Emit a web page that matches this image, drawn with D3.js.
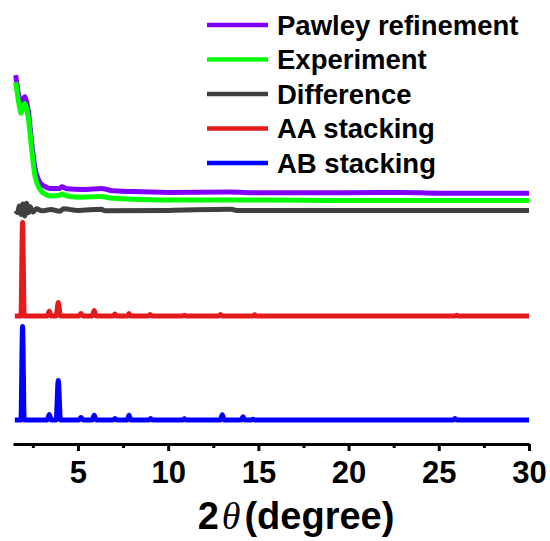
<!DOCTYPE html>
<html>
<head>
<meta charset="utf-8">
<script src="https://cdn.jsdelivr.net/npm/d3@7"></script>
<style>
  body { margin: 0; background: #fff; }
  svg { display: block; font-family: "Liberation Sans", Arial, sans-serif; }
</style>
</head>
<body>
<div id="chart"></div>
<script>
// 2theta (degree) vs intensity (a.u., series already offset for stacking)
const pawley = [
  [1.55, 92.2], [1.79, 85.5], [1.84, 84.8], [1.95, 86.0], [2.06, 86.8], [2.15, 85.6],
  [2.25, 83.2], [2.43, 75.5], [2.62, 69.0], [2.89, 65.4], [3.2, 64.3], [3.45, 63.9],
  [4.0, 63.9], [4.1, 64.3], [4.4, 63.8], [5.28, 63.6], [6.31, 63.9], [6.8, 63.4],
  [8.05, 63.1], [10, 62.9], [13.4, 63.0], [15, 62.8], [20, 62.8], [23, 62.9], [25, 62.7], [30, 62.7]
]
const experiment = [
  [1.55, 90.5], [1.79, 83.6], [1.84, 82.7], [1.95, 84.1], [2.06, 85.1], [2.15, 83.9],
  [2.25, 81.5], [2.43, 73.8], [2.62, 67.0], [2.89, 63.7], [3.2, 62.4], [3.45, 62.0],
  [4.0, 62.2], [4.1, 62.5], [4.4, 62.0], [5.28, 61.7], [6.31, 61.9], [6.8, 61.5],
  [8.05, 61.2], [10, 61.0], [15, 61.0], [20, 60.9], [25, 60.9], [30, 60.9]
]
const difference = [
  [1.55, 58.3], [1.65, 57.8], [1.75, 59.5], [1.85, 57.4], [1.95, 60.0], [2.05, 57.0],
  [2.15, 60.2], [2.25, 57.8], [2.35, 59.3], [2.5, 58.0], [2.7, 58.8], [3.0, 58.3],
  [3.5, 58.6], [4.0, 58.2], [4.2, 58.8], [5.0, 58.4], [6.3, 58.7], [6.5, 58.3],
  [10, 58.4], [13.5, 58.7], [13.8, 58.4], [20, 58.4], [30, 58.4]
]
const aaStacking = [
  [1.5, 32], [1.84, 32], [1.93, 55.4], [2.02, 32], [3.3, 32], [3.41, 33.2], [3.52, 32],
  [3.79, 32], [3.91, 35.4], [4.03, 32], [5.06, 32], [5.17, 32.6], [5.28, 32],
  [5.79, 32], [5.9, 33.4], [6.01, 32], [6.95, 32], [7.05, 32.5], [7.15, 32],
  [7.73, 32], [7.83, 32.6], [7.93, 32], [8.9, 32], [9.0, 32.4], [9.1, 32],
  [10.8, 32], [10.9, 32.2], [11.0, 32], [12.8, 32], [12.9, 32.4], [13.0, 32],
  [14.7, 32], [14.8, 32.3], [14.9, 32], [25.9, 32], [26.0, 32.2], [26.1, 32], [30, 32]
]
const abStacking = [
  [1.5, 6], [1.84, 6], [1.93, 29.4], [2.02, 6], [3.3, 6], [3.41, 7.4], [3.52, 6],
  [3.79, 6], [3.91, 15.9], [4.03, 6], [5.06, 6], [5.17, 6.6], [5.28, 6],
  [5.79, 6], [5.9, 7.2], [6.01, 6], [6.95, 6], [7.05, 6.4], [7.15, 6],
  [7.73, 6], [7.83, 7.2], [7.93, 6], [8.93, 6], [9.03, 6.4], [9.13, 6],
  [10.8, 6], [10.9, 6.3], [11.0, 6], [12.9, 6], [13.0, 7.3], [13.1, 6],
  [14.05, 6], [14.15, 6.8], [14.25, 6], [14.6, 6], [14.7, 6.2], [14.8, 6],
  [25.8, 6], [25.9, 6.4], [26.0, 6], [30, 6]
]

const seriesNames = ["Pawley refinement", "Experiment", "Difference", "AA stacking", "AB stacking"]
const seriesColors = ["#7f00ff", "#00ff00", "#404040", "#e41a1c", "#0000ff"]
const seriesData = [pawley, experiment, difference, aaStacking, abStacking]

const majorTicks = [5, 10, 15, 20, 25, 30]
const minorTicks = [2.5, 7.5, 12.5, 17.5, 22.5, 27.5]

const width = 550, height = 541

const svg = d3.select("#chart").append("svg")
  .attr("width", width)
  .attr("height", height)

const x = d3.scaleLinear().domain([1.4, 30]).range([13, 529])
const y = d3.scaleLinear().domain([0, 111]).range([444, 0])

const line = d3.line()
  .x(d => x(d[0]))
  .y(d => y(d[1]))
  .curve(d3.curveMonotoneX)

// curves
seriesData.forEach((data, i) => {
  svg.append("path")
    .datum(data)
    .attr("fill", "none")
    .attr("stroke", seriesColors[i])
    .attr("stroke-width", 5)
    .attr("stroke-linejoin", "round")
    .attr("d", line)
})

// x axis
const axisG = svg.append("g").attr("transform", "translate(0," + y(0) + ")")
axisG.call(d3.axisBottom(x).tickValues(minorTicks).tickSize(4).tickSizeOuter(0).tickFormat(""))
axisG.call(g => g.select(".domain").remove())
const majorG = svg.append("g").attr("transform", "translate(0," + y(0) + ")")
  .call(d3.axisBottom(x).tickValues(majorTicks).tickSize(7).tickSizeOuter(0).tickPadding(10))
majorG.select(".domain").attr("stroke-width", 3)
svg.selectAll(".tick line").attr("stroke-width", 3)
majorG.selectAll(".tick text")
  .attr("font-size", 31)
  .attr("font-weight", "bold")
  .attr("font-family", "Liberation Sans, Arial, sans-serif")
  .attr("fill", "#000")

const title = svg.append("text")
  .attr("x", 296)
  .attr("y", 529)
  .attr("text-anchor", "middle")
  .attr("font-size", 38)
  .attr("font-weight", "bold")
title.append("tspan").text("2")
title.append("tspan")
  .attr("font-family", "Liberation Serif, serif")
  .attr("font-style", "italic")
  .attr("font-weight", "normal")
  .attr("dx", 3)
  .text("θ")
title.append("tspan").attr("dx", 4).text("(degree)")

// legend
const legend = svg.append("g")
seriesNames.forEach((name, i) => {
  const cy = 25 + i * 34.5
  legend.append("line")
    .attr("x1", 207).attr("x2", 268)
    .attr("y1", cy).attr("y2", cy)
    .attr("stroke", seriesColors[i])
    .attr("stroke-width", 4.5)
  legend.append("text")
    .attr("x", 277)
    .attr("y", cy)
    .attr("dy", "0.36em")
    .attr("font-size", 27.5)
    .attr("font-weight", "bold")
    .text(name)
})
</script>
</body>
</html>
